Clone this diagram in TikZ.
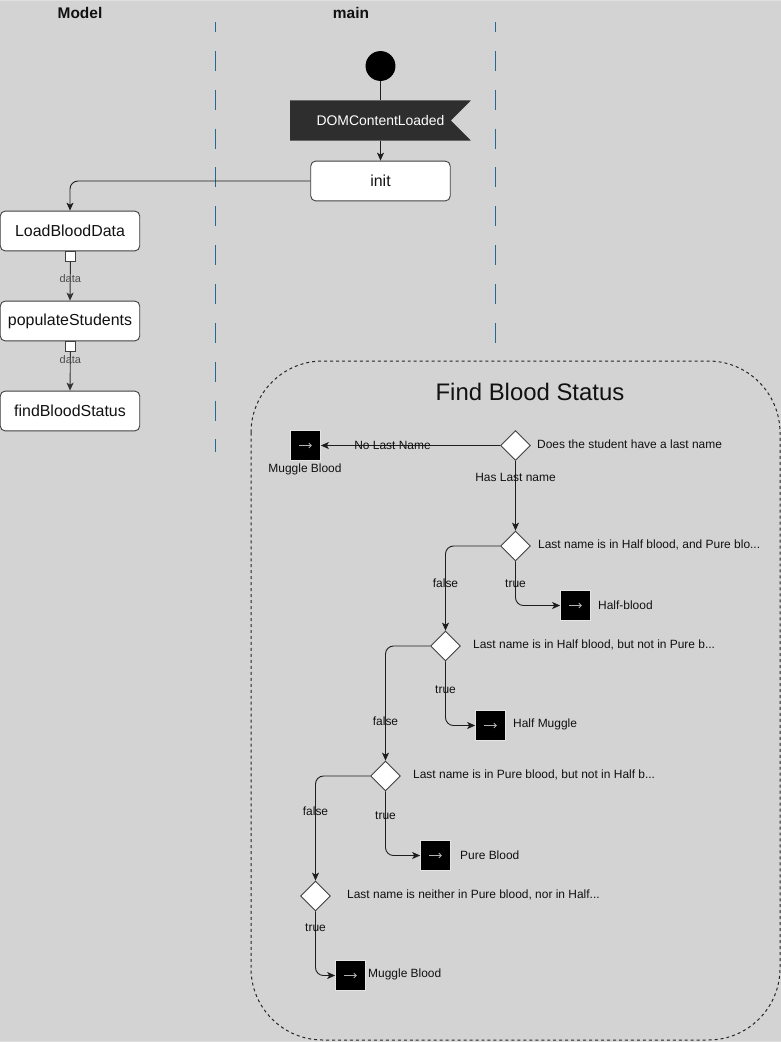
\documentclass[tikz,border=0pt]{standalone}
\usepackage{fontspec}
\setmainfont{Liberation Sans}
\usetikzlibrary{shapes.geometric,arrows.meta}
\definecolor{bg}{HTML}{D3D3D3}
\definecolor{lane}{HTML}{236A92}
\definecolor{flagc}{HTML}{2E2E2E}
\definecolor{txt}{HTML}{111111}
\definecolor{ln}{HTML}{1E1E1E}
\tikzset{
  fbig/.style={font=\fontsize{16}{19}\selectfont},
  fmid/.style={font=\fontsize{14}{17}\selectfont},
  fsm/.style={font=\fontsize{12}{14}\selectfont},
  ftiny/.style={font=\fontsize{11}{13}\selectfont},
  fnbox/.style={rectangle, rounded corners=5, draw=black!75, fill=white, line width=0.9,
    minimum width=140, minimum height=40, inner sep=0, fbig, text=txt},
  pinbox/.style={rectangle, draw=black!75, fill=white, line width=0.8, minimum size=10, inner sep=0},
  decbox/.style={diamond, draw=black!75, fill=white, line width=0.9, minimum width=30, minimum height=30, inner sep=0},
  actbox/.style={rectangle, fill=black, draw=white!90!black, line width=0.8, minimum size=30, inner sep=0,
    path picture={\draw[gray!60, line width=0.9, -{Straight Barb[length=2.5pt,width=5pt]}]
      ([xshift=-6.5]path picture bounding box.center) -- ([xshift=6.5]path picture bounding box.center);}},
  lbl/.style={fsm, text=txt, inner sep=1},
  elbl/.style={fsm, text=txt, inner sep=1},
  arr/.style={draw=ln, line width=0.9, -{Stealth[length=8pt,width=7pt,inset=2pt]}},
  plainline/.style={draw=ln, line width=0.9},
  bentline/.style={rounded corners=8},
  lanel/.style={draw=lane, line width=1, dash pattern=on 20 off 19, dash phase=10},
}
\begin{document}
\begin{tikzpicture}[x=1bp,y=-1bp]
\useasboundingbox (0,0) rectangle (781,1042);
\fill[bg] (0,0) rectangle (781,1042);
\draw[white!88!black, line width=1] (0.5,0.5) -- (780.5,0.5);
\draw[white!88!black, line width=1] (0.5,1041.5) -- (780.5,1041.5);

% lane headers and separators
\node[font=\bfseries\fontsize{15.5}{18}\selectfont, text=txt] (hmodel) at (80,13) {Model};
\node[font=\bfseries\fontsize{15.5}{18}\selectfont, text=txt] (hmain) at (351,13) {main};
\coordinate (l1a) at (215,22); \coordinate (l1b) at (215,452);
\coordinate (l2a) at (495,22); \coordinate (l2b) at (495,452);
\draw[lanel] (l1a) -- (l1b);
\draw[lanel] (l2a) -- (l2b);

% container
\draw[black!85, fill=bg, line width=1, dash pattern=on 3 off 3, rounded corners=72] (251,361) rectangle (780,1040);
\node[font=\fontsize{24}{28}\selectfont, text=txt] (title) at (530,392) {Find Blood Status};

% main lane
\node[circle, fill=black, minimum size=30, inner sep=0] (start) at (380.5,66) {};
\node[minimum width=181, minimum height=40, inner sep=0] (dom) at (380.5,120.5) {};
\fill[flagc] (dom.north west) -- (dom.north east) -- ([xshift=-20]dom.east) -- (dom.south east) -- (dom.south west) -- cycle;
\node[fmid, text=white] (domtxt) at (380.5,120.5) {DOMContentLoaded};
\draw[plainline] (start) -- (dom.north);
\node[fnbox] (init) at (380.5,181) {init};
\draw[arr] (dom.south) -- (init.north);

% model lane
\node[fnbox] (load) at (70,231) {LoadBloodData};
\node[fnbox] (pop) at (70,321) {populateStudents};
\node[fnbox] (find) at (70,411) {findBloodStatus};
\node[pinbox] (pin1) at (70.5,256) {};
\node[pinbox] (pin2) at (70.5,346) {};
\draw[arr, bentline] (init.west) -| (load.north);
\draw[arr, draw=black!80] (pin1) -- (pop.north) node[pos=0.45, ftiny, text=black!70, inner sep=0] (dl1) {data};
\draw[arr, draw=black!80] (pin2) -- (find.north) node[pos=0.2, ftiny, text=black!70, inner sep=0] (dl2) {data};

% decisions
\node[decbox] (d1) at (515.5,445.5) {};
\node[decbox] (d2) at (515.5,546) {};
\node[decbox] (d3) at (445.5,646) {};
\node[decbox] (d4) at (385.5,776) {};
\node[decbox] (d5) at (315.5,896) {};

\node[lbl, anchor=west] (t1) at (536,444) {Does the student have a last name};
\node[lbl, anchor=west] (t2) at (537,545) {Last name is in Half blood, and Pure blo...};
\node[lbl, anchor=west] (t3) at (472,645) {Last name is in Half blood, but not in Pure b...};
\node[lbl, anchor=west] (t4) at (412,775) {Last name is in Pure blood, but not in Half b...};
\node[lbl, anchor=west] (t5) at (346,895) {Last name is neither in Pure blood, nor in Half...};

% actions
\node[actbox] (a1) at (305.5,445.5) {};
\node[actbox] (a2) at (575.5,605.5) {};
\node[actbox] (a3) at (490.5,725.5) {};
\node[actbox] (a4) at (435.5,855.5) {};
\node[actbox] (a5) at (350.5,975.5) {};

\node[lbl] (m1) at (305,469) {Muggle Blood};
\node[lbl, anchor=west] (m2) at (597,605) {Half-blood};
\node[lbl, anchor=west] (m3) at (512,724) {Half Muggle};
\node[lbl, anchor=west] (m4) at (459,855) {Pure Blood};
\node[lbl, anchor=west] (m5) at (367,974) {Muggle Blood};

% connectors
\draw[arr] (d1.west) -- (a1.east) node[elbl, pos=0.6] (e1) {No Last Name};
\draw[arr] (d1.south) -- (d2.north) node[elbl, pos=0.24] (e2) {Has Last name};

\draw[arr, bentline] (d2.south) |- (a2.west) node[elbl, pos=0.25] (e3) {true};
\draw[arr, bentline] (d2.west) -| (d3.north) node[elbl, pos=0.72] (e4) {false};

\draw[arr, bentline] (d3.south) |- (a3.west) node[elbl, pos=0.22] (e5) {true};
\draw[arr, bentline] (d3.west) -| (d4.north) node[elbl, pos=0.83] (e6) {false};

\draw[arr, bentline] (d4.south) |- (a4.west) node[elbl, pos=0.19] (e7) {true};
\draw[arr, bentline] (d4.west) -| (d5.north) node[elbl, pos=0.67] (e8) {false};

\draw[arr, bentline] (d5.south) |- (a5.west) node[elbl, pos=0.125] (e9) {true};
\end{tikzpicture}
\end{document}
